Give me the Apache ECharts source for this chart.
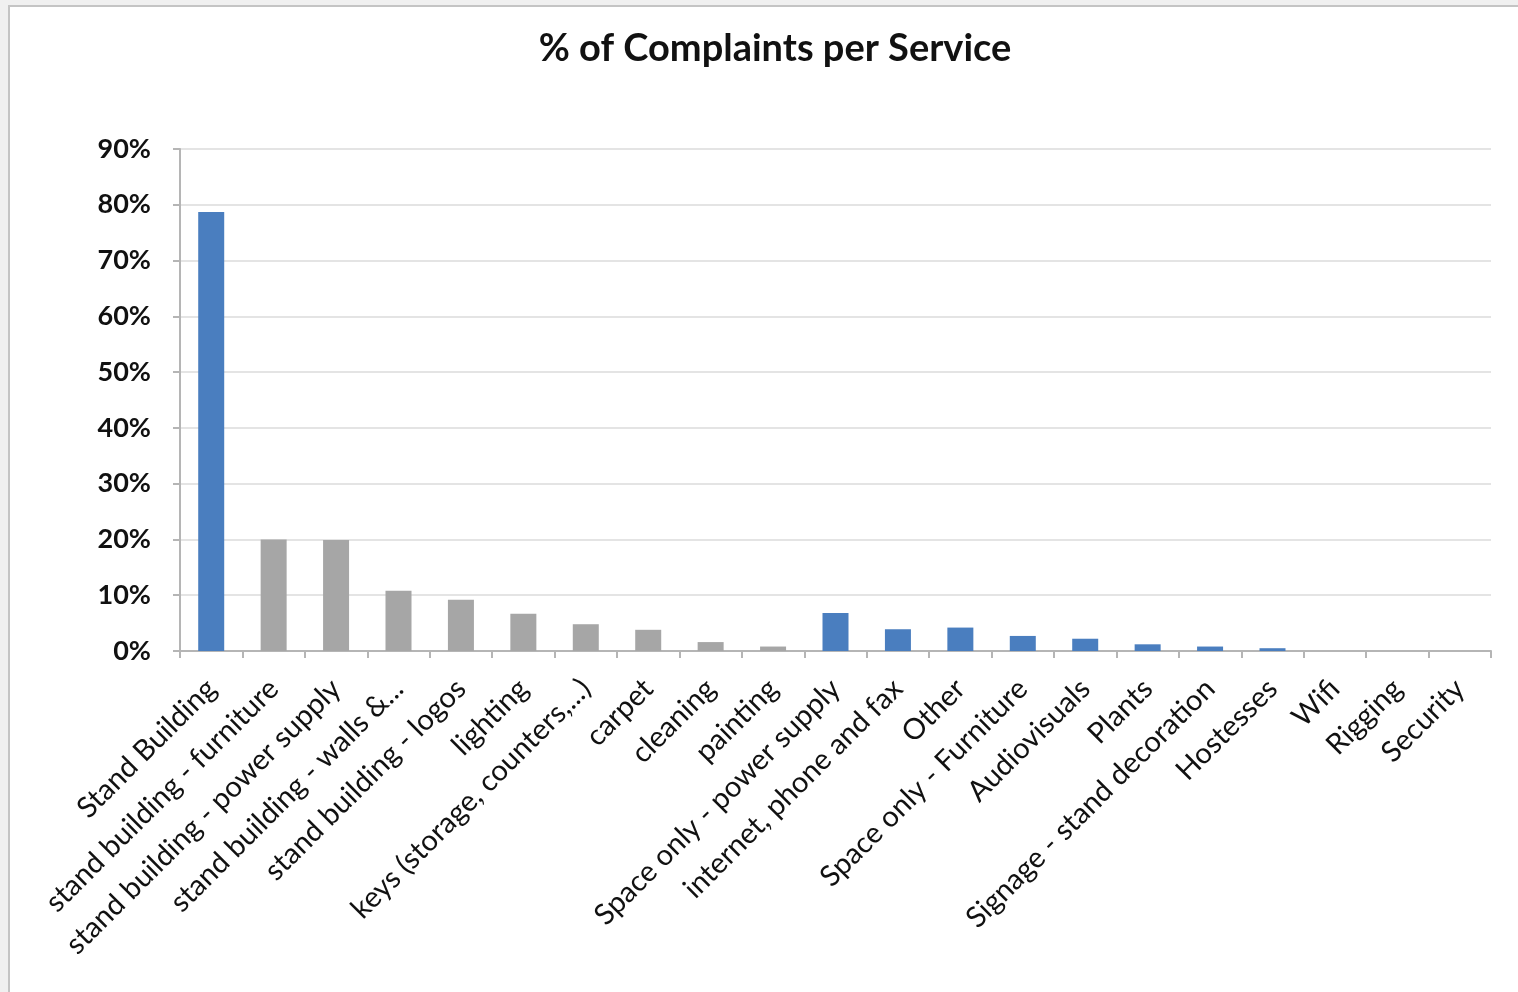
<!DOCTYPE html>
<html>
<head>
<meta charset="utf-8">
<script src="https://cdn.jsdelivr.net/npm/echarts@6/dist/echarts.min.js"></script>
<style>
  html, body { margin: 0; padding: 0; width: 1518px; height: 992px; overflow: hidden; background: #f0f0f0; }
  #frame { position: absolute; left: 8px; top: 5px; right: 0; bottom: 0; background: #ffffff; border-left: 2px solid #c4c4c4; border-top: 2px solid #c4c4c4; }
  #chart { position: absolute; left: 0; top: 0; width: 1518px; height: 992px; }
</style>
</head>
<body>
<div id="frame"></div>
<div id="chart"></div>
<script>
// ---- data ----
const categories = [
  'Stand Building',
  'stand building - furniture',
  'stand building - power supply',
  'stand building - walls &...',
  'stand building - logos',
  'lighting',
  'keys (storage, counters,...)',
  'carpet',
  'cleaning',
  'painting',
  'Space only - power supply',
  'internet, phone and fax',
  'Other',
  'Space only - Furniture',
  'Audiovisuals',
  'Plants',
  'Signage - stand decoration',
  'Hostesses',
  'Wifi',
  'Rigging',
  'Security'
];
const percentValues = [78.7, 20.0, 19.9, 10.8, 9.2, 6.7, 4.8, 3.8, 1.6, 0.8, 6.8, 3.9, 4.2, 2.7, 2.2, 1.2, 0.8, 0.5, 0, 0, 0];
// true = sub-item of Stand Building (drawn grey)
const isStandBuildingDetail = [false, true, true, true, true, true, true, true, true, true, false, false, false, false, false, false, false, false, false, false, false];
const yTicks = [0, 10, 20, 30, 40, 50, 60, 70, 80, 90];
const chartTitle = '% of Complaints per Service';

// ---- chart ----
const BLUE = '#4a7ebf';
const GREY = '#a6a6a6';
const FONT = 'Lato, "Open Sans", sans-serif';

const chart = echarts.init(document.getElementById('chart'), null, { renderer: 'canvas' });
chart.setOption({
  backgroundColor: 'transparent',
  animation: false,
  title: {
    text: chartTitle,
    left: 770,
    top: 25,
    textAlign: 'center',
    textStyle: { fontFamily: FONT, fontWeight: 'bold', fontSize: 38, color: '#111111' }
  },
  grid: { left: 180, top: 149, width: 1311, height: 502, containLabel: false },
  xAxis: {
    type: 'category',
    data: categories,
    axisLine: { show: true, lineStyle: { color: '#b5b5b5', width: 2 } },
    axisTick: { show: true, alignWithLabel: false, length: 7, lineStyle: { color: '#b5b5b5', width: 2 } },
    axisLabel: {
      interval: 0,
      rotate: 45,
      margin: 33,
      fontFamily: FONT,
      fontSize: 29,
      color: '#111111'
    }
  },
  yAxis: {
    type: 'value',
    min: yTicks[0],
    max: yTicks[yTicks.length - 1],
    interval: yTicks[1] - yTicks[0],
    axisLine: { show: true, lineStyle: { color: '#b5b5b5', width: 2 } },
    axisTick: { show: true, length: 7, lineStyle: { color: '#b5b5b5', width: 2 } },
    splitLine: { show: true, lineStyle: { color: '#e4e4e4', width: 2 } },
    axisLabel: {
      formatter: '{value}%',
      margin: 29,
      fontFamily: FONT,
      fontWeight: 'bold',
      fontSize: 27,
      color: '#111111'
    }
  },
  series: [{
    type: 'bar',
    barWidth: 26,
    data: percentValues.map((v, i) => ({
      value: v,
      itemStyle: { color: isStandBuildingDetail[i] ? GREY : BLUE }
    }))
  }]
});
</script>
</body>
</html>
